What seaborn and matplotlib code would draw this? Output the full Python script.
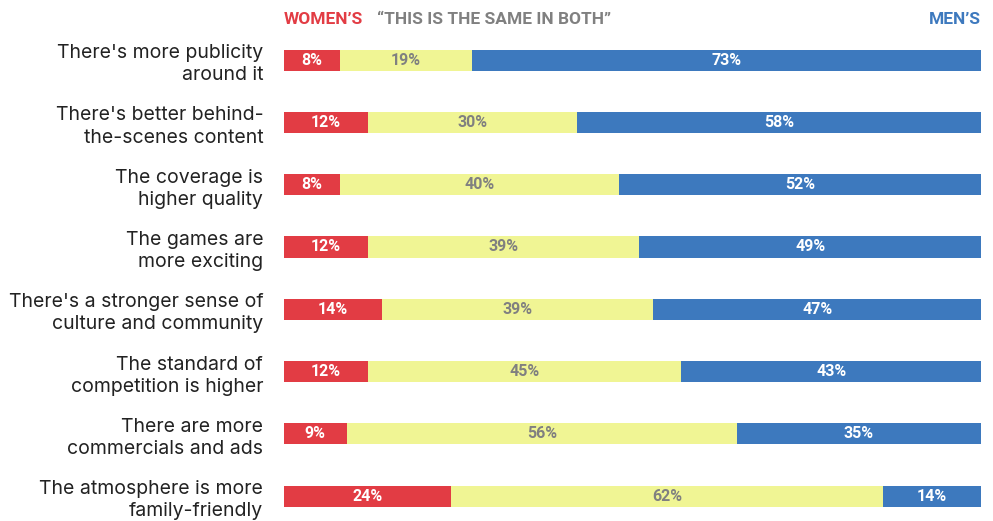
import matplotlib
matplotlib.use("Agg")
import matplotlib.pyplot as plt
import seaborn as sns
import pandas as pd
import numpy as np

statements = [
    "There's more publicity\naround it",
    "There's better behind-\nthe-scenes content",
    "The coverage is\nhigher quality",
    "The games are\nmore exciting",
    "There's a stronger sense of\nculture and community",
    "The standard of\ncompetition is higher",
    "There are more\ncommercials and ads",
    "The atmosphere is more\nfamily-friendly",
]
womens = [8, 12, 8, 12, 14, 12, 9, 24]
same = [19, 30, 40, 39, 39, 45, 56, 62]
mens = [73, 58, 52, 49, 47, 43, 35, 14]

RED = "#e23c44"
YELLOW = "#f0f594"
BLUE = "#3d79be"
GRAY = "#808080"

df = pd.DataFrame({"statement": statements, "women": womens, "same": same, "men": mens})
df["w_end"] = df["women"]
df["s_end"] = df["women"] + df["same"]
df["m_end"] = df["s_end"] + df["men"]

sns.set_style("white")
cond = ["Roboto", "DejaVu Sans"]

fig = plt.figure(figsize=(9.93, 5.21), dpi=100)
W, H = 993, 521
ax = fig.add_axes([284 / W, 0, (981 - 284) / W, (521 - 29) / H])

# stacked by drawing cumulative totals back-to-front
sns.barplot(data=df, y="statement", x="m_end", color=BLUE, width=0.34, ax=ax, saturation=1, orient="h")
sns.barplot(data=df, y="statement", x="s_end", color=YELLOW, width=0.34, ax=ax, saturation=1, orient="h")
sns.barplot(data=df, y="statement", x="w_end", color=RED, width=0.34, ax=ax, saturation=1, orient="h")

for bars in ax.containers:
    for b in bars:
        b.set_linewidth(0)

ax.set_xlim(0, 100)
ax.set_ylim(7.4, -0.5)
sns.despine(ax=ax, left=True, bottom=True)
ax.set_xticks([])
ax.set_xlabel("")
ax.set_ylabel("")
ax.set_yticks(range(len(statements)))
ax.set_yticklabels(statements, fontsize=14, color="#222222", linespacing=1.3,
                   family=["Inter", "DejaVu Sans"])
ax.tick_params(axis="y", length=0, pad=15)

for i, row in df.iterrows():
    ax.text(row["women"] / 2, i, f"{row['women']}%", ha="center", va="center",
            color="white", fontsize=11.5, fontweight="bold", family=cond)
    ax.text(row["women"] + row["same"] / 2, i, f"{row['same']}%", ha="center", va="center",
            color=GRAY, fontsize=11.5, fontweight="bold", family=cond)
    ax.text(row["s_end"] + row["men"] / 2, i, f"{row['men']}%", ha="center", va="center",
            color="white", fontsize=11.5, fontweight="bold", family=cond)

hy = 1 - 20 / H
fig.text(284 / W, hy, "WOMEN\u2019S", color=RED, fontsize=12.5, fontweight="bold",
         family=cond, ha="left", va="center")
fig.text(377 / W, hy, "\u201cTHIS IS THE SAME IN BOTH\u201d", color=GRAY, fontsize=12.5,
         fontweight="bold", family=cond, ha="left", va="center")
fig.text(981 / W, hy, "MEN\u2019S", color=BLUE, fontsize=12.5, fontweight="bold",
         family=cond, ha="right", va="center")

fig.savefig("out.png", dpi=100, facecolor="white")
